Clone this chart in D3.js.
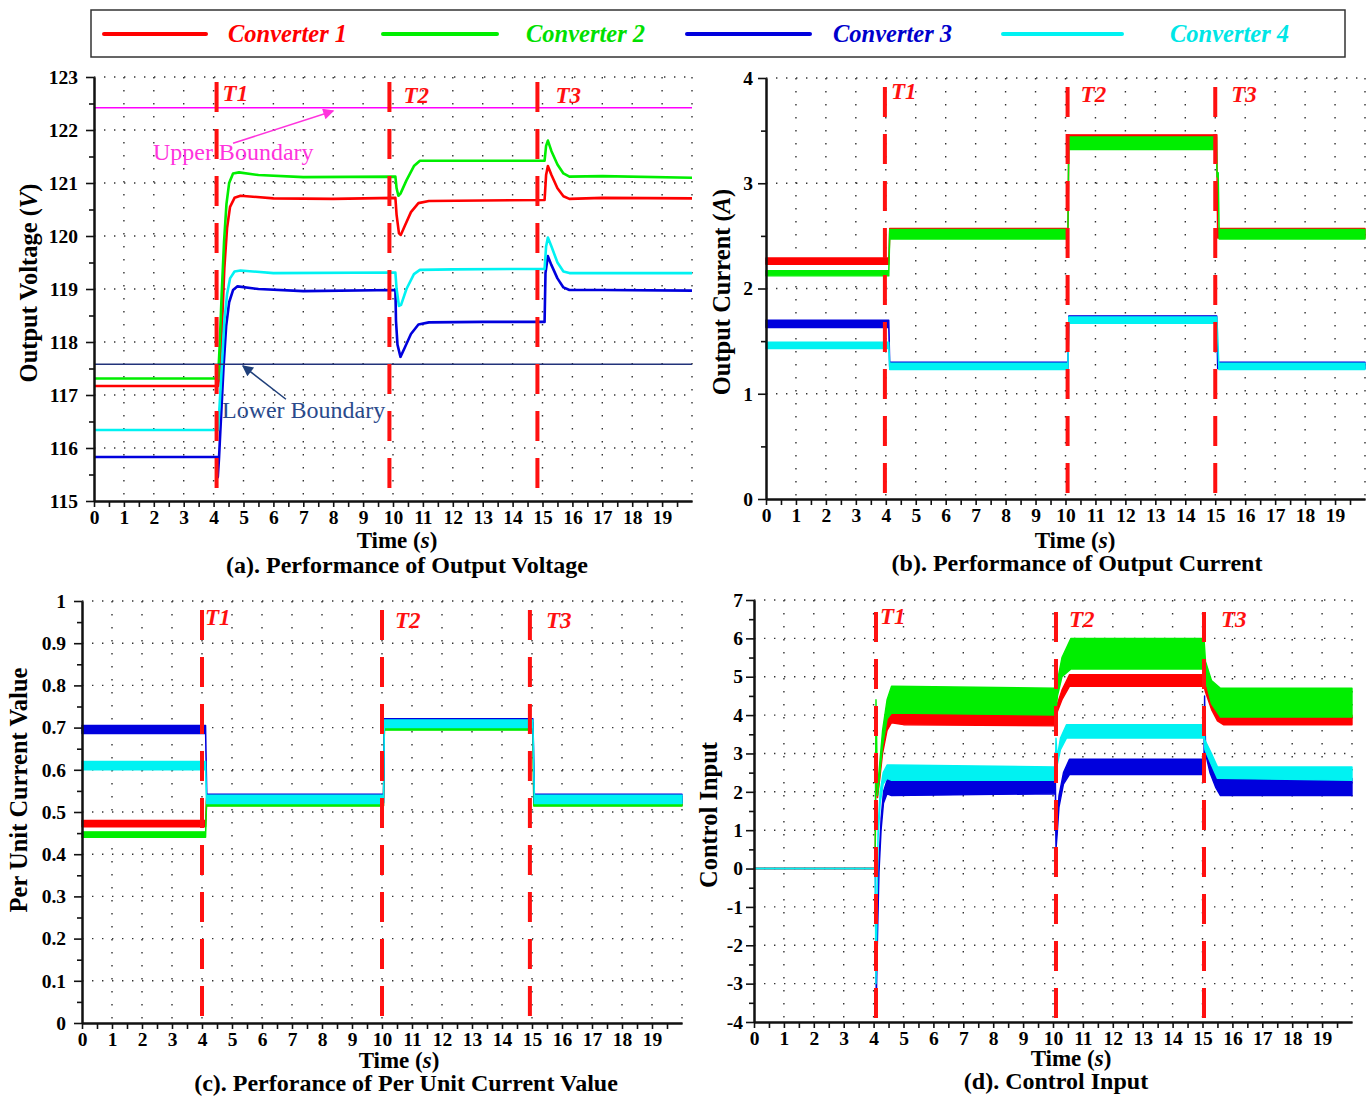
<!DOCTYPE html>
<html><head><meta charset="utf-8">
<script src="https://cdn.jsdelivr.net/npm/d3@7"></script>
<style>
body{margin:0;background:#fff}
svg{display:block}
text{font-family:"Liberation Serif","Times New Roman",serif}
</style>
</head><body>
<svg id="c" width="1367" height="1097"></svg>
<script>
// ---------------- DATA ----------------
const timeTickLabels = d3.range(0, 20);            // 0..19
const converterNames = ["Converter 1", "Converter 2", "Converter 3", "Converter 4"];
const eventNames = ["T1", "T2", "T3"];

// (a) output voltage [t, V]
const voltC1 = [[0,117.17],[4.15,117.17],[4.2,117.4],[4.28,118.3],[4.36,119.4],[4.45,120.15],[4.55,120.55],[4.7,120.72],[4.9,120.76],[6,120.71],[8,120.7],[10.08,120.72],[10.12,120.4],[10.2,120.05],[10.26,120.02],[10.4,120.2],[10.6,120.45],[10.85,120.62],[11.2,120.66],[13,120.67],[15.07,120.68],[15.12,121.15],[15.18,121.32],[15.3,121.15],[15.5,120.9],[15.7,120.75],[15.9,120.7],[17,120.72],[20,120.71]];
const voltC2 = [[0,117.31],[4.15,117.31],[4.2,117.9],[4.27,118.9],[4.35,119.9],[4.43,120.6],[4.52,121.0],[4.65,121.18],[4.85,121.2],[5.5,121.15],[7,121.11],[10.08,121.12],[10.12,120.9],[10.18,120.76],[10.25,120.8],[10.45,121.05],[10.7,121.32],[10.9,121.42],[12,121.42],[15.07,121.42],[15.12,121.7],[15.18,121.8],[15.3,121.6],[15.5,121.35],[15.7,121.18],[15.9,121.12],[17,121.13],[20,121.1]];
const voltC3 = [[0,115.83],[4.12,115.83],[4.14,115.45],[4.18,115.8],[4.25,116.6],[4.33,117.5],[4.42,118.3],[4.52,118.75],[4.65,118.98],[4.8,119.05],[5.5,119.0],[7,118.96],[10.08,118.98],[10.1,118.4],[10.15,117.95],[10.25,117.72],[10.4,117.9],[10.6,118.15],[10.85,118.33],[11.2,118.37],[13,118.38],[15.07,118.38],[15.1,119.3],[15.18,119.62],[15.3,119.45],[15.5,119.2],[15.7,119.03],[15.9,118.98],[17,118.98],[20,118.97]];
const voltC4 = [[0,116.34],[4.15,116.34],[4.2,116.8],[4.28,117.6],[4.36,118.4],[4.45,118.9],[4.55,119.2],[4.7,119.33],[4.9,119.35],[6,119.3],[10.08,119.31],[10.12,119.0],[10.2,118.68],[10.27,118.7],[10.45,119.0],[10.7,119.28],[10.9,119.36],[12,119.37],[15.07,119.38],[15.12,119.8],[15.18,119.97],[15.3,119.8],[15.5,119.5],[15.7,119.33],[15.9,119.3],[20,119.3]];
const upperBoundary = 122.42;
const lowerBoundary = 117.58;

// (b) output current [t, low, high]
const currC1 = [[0,2.23,2.29],[4.1,2.23,2.29],[4.13,2.48,2.57],[10.08,2.48,2.57],[10.11,3.33,3.46],[15.05,3.33,3.46],[15.08,2.48,2.57],[20,2.48,2.57]];
const currC2 = [[0,2.12,2.17],[4.1,2.12,2.17],[4.13,2.47,2.56],[10.08,2.47,2.56],[10.11,3.32,3.44],[15.04,3.32,3.44],[15.06,3.06,3.1],[15.1,3.06,3.1],[15.13,2.47,2.56],[20,2.47,2.56]];
const currC3 = [[0,1.63,1.7],[4.1,1.63,1.7],[4.13,1.24,1.3],[10.08,1.24,1.3],[10.11,1.68,1.74],[15.05,1.68,1.74],[15.08,1.24,1.3],[20,1.24,1.3]];
const currC4 = [[0,1.43,1.49],[4.1,1.43,1.49],[4.13,1.23,1.29],[10.08,1.23,1.29],[10.11,1.67,1.73],[15.05,1.67,1.73],[15.08,1.54,1.58],[15.12,1.23,1.29],[20,1.23,1.29]];

// (c) per unit current [t, low, high]
const puC1 = [[0,0.465,0.48],[4.12,0.465,0.48],[4.15,0.515,0.533],[10.05,0.515,0.533],[10.08,0.697,0.712],[15.03,0.697,0.712],[15.06,0.515,0.533],[20,0.515,0.533]];
const puC2 = [[0,0.44,0.453],[4.12,0.44,0.453],[4.15,0.514,0.527],[10.05,0.514,0.527],[10.08,0.694,0.708],[15.03,0.694,0.708],[15.06,0.514,0.527],[20,0.514,0.527]];
const puC3 = [[0,0.686,0.705],[4.12,0.686,0.705],[4.14,0.6,0.62],[4.16,0.522,0.542],[10.05,0.522,0.542],[10.08,0.706,0.721],[15.03,0.706,0.721],[15.05,0.645,0.66],[15.08,0.522,0.542],[20,0.522,0.542]];
const puC4 = [[0,0.6,0.62],[4.12,0.6,0.62],[4.15,0.52,0.54],[10.05,0.52,0.54],[10.08,0.7,0.718],[15.03,0.7,0.718],[15.08,0.52,0.54],[20,0.52,0.54]];
const puTickLabels = ["0","0.1","0.2","0.3","0.4","0.5","0.6","0.7","0.8","0.9","1"];

// (d) control input [t, low, high]
const ctlC1 = [[0,0,0],[4.05,0,0],[4.08,2.6,2.8],[4.13,1.85,2.0],[4.2,2.3,2.5],[4.3,3.0,3.2],[4.45,3.6,3.85],[4.6,3.8,4.05],[5,3.75,4.05],[10.08,3.72,4.0],[10.15,4.1,4.3],[10.3,4.4,4.65],[10.55,4.75,5.05],[15.05,4.75,5.05],[15.1,4.6,4.8],[15.3,4.15,4.4],[15.5,3.85,4.05],[15.7,3.75,4.0],[20,3.75,4.0]];
const ctlC2 = [[0,0,0],[4.05,0,0],[4.08,4.2,4.4],[4.13,1.9,2.1],[4.2,2.4,2.7],[4.3,3.2,3.6],[4.45,3.9,4.4],[4.6,4.05,4.75],[10.08,4.0,4.7],[10.15,4.5,4.9],[10.3,5.0,5.5],[10.6,5.2,6.0],[15.05,5.2,6.0],[15.1,4.9,5.4],[15.3,4.3,4.9],[15.6,3.95,4.7],[20,3.95,4.7]];
const ctlC3 = [[0,0,0],[4.06,0,0],[4.09,-3.5,-3.2],[4.13,-1.8,-1.5],[4.18,-0.1,0.2],[4.25,1.0,1.3],[4.33,1.7,2.0],[4.45,1.95,2.3],[4.6,1.9,2.4],[10.08,1.95,2.35],[10.1,0.5,0.9],[10.14,0.9,1.3],[10.2,1.6,1.9],[10.35,2.2,2.5],[10.55,2.45,2.85],[15.05,2.45,2.85],[15.07,4.3,4.5],[15.1,3.0,3.3],[15.25,2.5,2.8],[15.45,2.1,2.4],[15.6,1.9,2.35],[20,1.9,2.35]];
const ctlC4 = [[0,0,0],[4.05,0,0],[4.08,-3.0,-2.8],[4.11,-1.5,-1.2],[4.15,0.8,1.1],[4.22,1.7,2.0],[4.32,2.2,2.5],[4.45,2.35,2.7],[4.6,2.3,2.7],[10.08,2.3,2.65],[10.1,3.2,3.4],[10.14,2.7,2.9],[10.25,3.1,3.4],[10.45,3.4,3.75],[15.05,3.4,3.75],[15.08,3.1,3.35],[15.3,2.7,3.0],[15.5,2.35,2.65],[20,2.3,2.65]];

// event times (as drawn in each panel)
const eventsA = [4.1, 9.88, 14.83];
const eventsB = [3.97, 10.07, 15.0];
const eventsC = [4.0, 10.0, 14.93];
const eventsD = [4.08, 10.1, 15.05];

// ---------------- STYLE ----------------
const lineColors = ["#ff0000", "#00ee00", "#0000dd", "#00f2f2"];
const legendTextColors = ["#ff0000", "#00e000", "#0000cc", "#00e6e6"];
const svg = d3.select("#c");

// legend
svg.append("rect").attr("x",91).attr("y",10).attr("width",1254).attr("height",47)
  .attr("fill","none").attr("stroke","#333").attr("stroke-width",1.5);
const legLines = [[104,206],[383,497],[687,810],[1003,1122]];
const legTextX = [228,526,833,1170];
converterNames.forEach((n,i)=>{
  svg.append("line").attr("x1",legLines[i][0]).attr("x2",legLines[i][1]).attr("y1",34).attr("y2",34)
    .attr("stroke",lineColors[i]).attr("stroke-width",4).attr("stroke-linecap","round");
  svg.append("text").attr("x",legTextX[i]).attr("y",42).text(n)
    .attr("fill",legendTextColors[i]).attr("font-size",24.5).attr("font-weight","bold").attr("font-style","italic");
});

function panel(cfg){
  const x = d3.scaleLinear().domain([0,20]).range([cfg.x0,cfg.x1]);
  const y = d3.scaleLinear().domain(cfg.yDomain).range([cfg.yb,cfg.yt]);
  const g = svg.append("g");
  // grid
  g.selectAll(null).data(d3.range(1,21)).join("line")
    .attr("x1",d=>x(d)).attr("x2",d=>x(d)).attr("y1",cfg.yt).attr("y2",cfg.yb)
    .attr("stroke","#333").attr("stroke-width",1.4).attr("stroke-dasharray","1.4,11.6");
  g.selectAll(null).data(cfg.yTicks.slice(1)).join("line")
    .attr("x1",cfg.x0).attr("x2",cfg.x1).attr("y1",d=>y(d)).attr("y2",d=>y(d))
    .attr("stroke","#333").attr("stroke-width",1.4).attr("stroke-dasharray","1.4,8.6");
  // series
  cfg.series.forEach((s,i)=>{
    if (cfg.mode === "line") {
      g.append("path").datum(s).attr("fill","none").attr("stroke",lineColors[i]).attr("stroke-width",2.6)
        .attr("stroke-linejoin","round")
        .attr("d", d3.line().x(d=>x(d[0])).y(d=>y(d[1])));
    } else {
      g.append("path").datum(s).attr("fill",lineColors[i]).attr("stroke",lineColors[i]).attr("stroke-width",1.4)
        .attr("stroke-linejoin","round")
        .attr("d", d3.area().x(d=>x(d[0])).y0(d=>y(d[1])).y1(d=>y(d[2])));
    }
  });
  if (cfg.extra) cfg.extra(g,x,y);
  // event dashed lines
  cfg.events.forEach((t,i)=>{
    g.append("line").attr("x1",x(t)).attr("x2",x(t)).attr("y1",cfg.dashTop).attr("y2",cfg.dashBottom)
      .attr("stroke","#ff1010").attr("stroke-width",4).attr("stroke-dasharray","30,17");
    g.append("text").attr("x",x(t)+cfg.labelDx[i]).attr("y",cfg.labelY[i]).text(eventNames[i])
      .attr("fill","#ff1010").attr("font-size",23).attr("font-weight","bold").attr("font-style","italic");
  });
  // axes
  g.append("g").attr("transform",`translate(0,${cfg.yb})`)
    .call(d3.axisBottom(x).tickValues(timeTickLabels).tickFormat(d3.format("d")).tickSize(6).tickSizeOuter(0).tickPadding(3));
  g.append("g").attr("transform",`translate(0,${cfg.yb})`)
    .call(d3.axisBottom(x).tickValues(d3.range(0.5,20.01,1)).tickFormat("").tickSize(6).tickSizeOuter(0));
  g.append("g").attr("transform",`translate(${cfg.x0},0)`)
    .call(d3.axisLeft(y).tickValues(cfg.yTicks).tickFormat((d,i)=>cfg.yLabels[i]).tickSize(8).tickSizeOuter(0).tickPadding(cfg.yPad));
  g.append("g").attr("transform",`translate(${cfg.x0},0)`)
    .call(d3.axisLeft(y).tickValues(cfg.yMinor).tickFormat("").tickSize(5).tickSizeOuter(0));
  g.selectAll(".domain").attr("stroke","#111").attr("stroke-width",2);
  g.selectAll(".tick line").attr("stroke","#111").attr("stroke-width",1.6);
  g.selectAll(".tick text").attr("font-family","'Liberation Serif',serif").attr("font-size",19.5)
    .attr("font-weight","bold").attr("fill","#000");
  // titles
  const tt = svg.append("text").attr("x",cfg.timeX).attr("y",cfg.timeY).attr("text-anchor","middle")
    .attr("font-size",23).attr("font-weight","bold");
  tt.append("tspan").text("Time (");
  tt.append("tspan").text("s").attr("font-style","italic");
  tt.append("tspan").text(")");
  svg.append("text").attr("x",cfg.titleX).attr("y",cfg.titleY).attr("text-anchor","middle")
    .attr("font-size",24).attr("font-weight","bold").text(cfg.title);
  const yt = svg.append("text").attr("transform",`translate(${cfg.ytX},${cfg.ytY}) rotate(-90)`)
    .attr("text-anchor","middle").attr("dominant-baseline","central").attr("font-size",24.5).attr("font-weight","bold");
  cfg.yTitle.forEach(p=>yt.append("tspan").text(p[0]).attr("font-style",p[1]?"italic":null));
}

const stepRange = (a,b,s)=>d3.range(Math.round((b-a)/s)+1).map(k=>+(a+k*s).toFixed(3));

// (a)
panel({
  x0:94,x1:692,yt:77,yb:501,yDomain:[115,123],
  yTicks:stepRange(115,123,1), yLabels:stepRange(115,123,1).map(String), yMinor:stepRange(115.5,122.5,1), yPad:8,
  series:[voltC1,voltC2,voltC3,voltC4], mode:"line",
  events:eventsA, dashTop:82, dashBottom:488, labelDx:[6,14,18], labelY:[101,103,103],
  timeX:397,timeY:548,titleX:407,titleY:573,title:"(a). Performance of Output Voltage",
  ytX:28,ytY:283,yTitle:[["Output Voltage (",false],["V",true],[")",false]],
  extra:(g,x,y)=>{
    const defs = svg.append("defs");
    [["arrM","#ff33dd"],["arrB","#1f3f7a"]].forEach(([id,c])=>{
      defs.append("marker").attr("id",id).attr("viewBox","0 0 10 10").attr("refX",9).attr("refY",5)
        .attr("markerWidth",16).attr("markerHeight",11).attr("markerUnits","userSpaceOnUse").attr("orient","auto")
        .append("path").attr("d","M0,0L10,5L0,10Z").attr("fill",c);
    });
    g.append("line").attr("x1",x(0)).attr("x2",x(20)).attr("y1",y(upperBoundary)).attr("y2",y(upperBoundary))
      .attr("stroke","#ff00ff").attr("stroke-width",1.5);
    g.append("line").attr("x1",x(0)).attr("x2",x(20)).attr("y1",y(lowerBoundary)).attr("y2",y(lowerBoundary))
      .attr("stroke","#22337a").attr("stroke-width",1.5);
    g.append("line").attr("x1",x(4.65)).attr("y1",y(121.75)).attr("x2",x(8.0)).attr("y2",y(122.36))
      .attr("stroke","#ff33dd").attr("stroke-width",1.5).attr("marker-end","url(#arrM)");
    g.append("line").attr("x1",x(6.42)).attr("y1",y(116.92)).attr("x2",x(4.98)).attr("y2",y(117.55))
      .attr("stroke","#1f3f7a").attr("stroke-width",1.5).attr("marker-end","url(#arrB)");
    g.append("text").attr("x",x(1.97)).attr("y",y(121.58)).attr("dominant-baseline","central")
      .attr("fill","#ff33dd").attr("font-size",24).text("Upper Boundary");
    g.append("text").attr("x",x(4.28)).attr("y",y(116.72)).attr("dominant-baseline","central")
      .attr("fill","#2a4a8c").attr("font-size",24).text("Lower Boundary");
  }
});

// (b)
panel({
  x0:766,x1:1365,yt:78,yb:499,yDomain:[0,4],
  yTicks:stepRange(0,4,1), yLabels:stepRange(0,4,1).map(String), yMinor:stepRange(0.5,3.5,1), yPad:5,
  series:[currC1,currC2,currC3,currC4], mode:"area",
  events:eventsB, dashTop:87, dashBottom:493, labelDx:[6,13,16], labelY:[99,102,102],
  timeX:1075,timeY:548,titleX:1077,titleY:571,title:"(b). Performance of Output Current",
  ytX:721,ytY:292,yTitle:[["Output Current (",false],["A",true],[")",false]]
});

// (c)
panel({
  x0:82,x1:682,yt:601,yb:1023,yDomain:[0,1],
  yTicks:stepRange(0,1,0.1), yLabels:puTickLabels, yMinor:stepRange(0.05,0.95,0.1), yPad:8,
  series:[puC1,puC2,puC3,puC4], mode:"area",
  events:eventsC, dashTop:610, dashBottom:1020, labelDx:[3,13,16], labelY:[625,628,628],
  timeX:399,timeY:1068,titleX:406,titleY:1091,title:"(c). Perforance of Per Unit Current Value",
  ytX:18,ytY:790,yTitle:[["Per Unit Current Value",false]]
});

// (d)
panel({
  x0:754,x1:1352,yt:600,yb:1022,yDomain:[-4,7],
  yTicks:stepRange(-4,7,1), yLabels:stepRange(-4,7,1).map(String), yMinor:stepRange(-3.5,6.5,1), yPad:3,
  series:[ctlC1,ctlC2,ctlC3,ctlC4], mode:"area",
  events:eventsD, dashTop:612, dashBottom:1018, labelDx:[4,13,17], labelY:[624,627,627],
  timeX:1071,timeY:1066,titleX:1056,titleY:1089,title:"(d). Control Input",
  ytX:708,ytY:815,yTitle:[["Control Input",false]]
});
</script>
</body></html>
